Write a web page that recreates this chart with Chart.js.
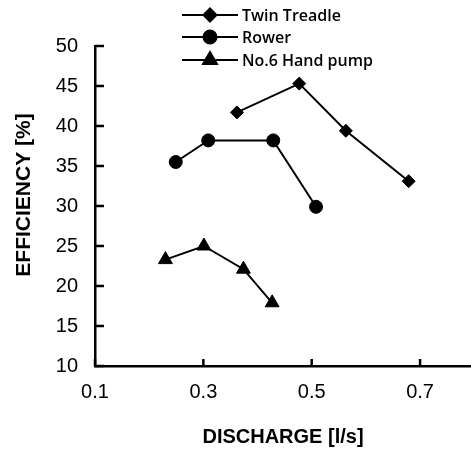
<!DOCTYPE html>
<html>
<head>
<meta charset="utf-8">
<script src="https://cdn.jsdelivr.net/npm/chart.js@4/dist/chart.umd.min.js"></script>
<style>
  body { margin: 0; background: #fff; }
  canvas { display: block; }
</style>
</head>
<body>
<canvas id="effChart" width="471" height="453"></canvas>
<script>
// values
const seriesNames = ["Twin Treadle", "Rower", "No.6 Hand pump"];

const treadleX = [0.362, 0.477, 0.563, 0.679];
const treadleY = [41.7, 45.3, 39.4, 33.1];

const rowerX = [0.249, 0.309, 0.429, 0.508];
const rowerY = [35.5, 38.2, 38.2, 29.9];

const handX = [0.230, 0.301, 0.374, 0.427];
const handY = [23.3, 25.0, 22.1, 17.9];

const xTicks = [0.1, 0.3, 0.5, 0.7];
const yTicks = [10, 15, 20, 25, 30, 35, 40, 45, 50];

const yTitle = "EFFICIENCY [%]";

const pts = (xs, ys) => xs.map((x, i) => ({ x, y: ys[i] }));

function series(label, data, style, radius) {
  return {
    label,
    data,
    borderColor: "#000",
    backgroundColor: "#000",
    borderWidth: 2,
    pointStyle: style,
    pointRadius: radius,
    pointBorderWidth: 1,
    showLine: true,
    tension: 0
  };
}

// inward tick marks, y title, legend with line through marker
const extrasPlugin = {
  id: "extras",
  afterDraw(chart) {
    const ctx = chart.ctx;
    const xs = chart.scales.x;
    const ys = chart.scales.y;
    const area = chart.chartArea;

    ctx.save();
    ctx.strokeStyle = "#000";
    ctx.lineWidth = 2.5;
    yTicks.forEach(v => {
      const py = ys.getPixelForValue(v);
      ctx.beginPath();
      ctx.moveTo(area.left, py);
      ctx.lineTo(area.left + 9, py);
      ctx.stroke();
    });
    xTicks.forEach(v => {
      const px = xs.getPixelForValue(v);
      ctx.beginPath();
      ctx.moveTo(px, area.bottom);
      ctx.lineTo(px, area.bottom - 7);
      ctx.stroke();
    });

    // y axis title
    ctx.save();
    ctx.translate(24, 195);
    ctx.rotate(-Math.PI / 2);
    ctx.fillStyle = "#000";
    ctx.font = "bold 21px 'Liberation Sans', Arial";
    ctx.textAlign = "center";
    ctx.textBaseline = "middle";
    ctx.fillText(yTitle, 0, 0);
    ctx.restore();

    // legend
    const rowY = [15, 37, 60];
    chart.data.datasets.forEach((ds, i) => {
      const y = rowY[i];
      ctx.strokeStyle = "#000";
      ctx.lineWidth = 2;
      ctx.beginPath();
      ctx.moveTo(182, y);
      ctx.lineTo(238, y);
      ctx.stroke();
      ctx.fillStyle = "#000";
      Chart.helpers.drawPoint(ctx, {
        pointStyle: ds.pointStyle,
        radius: ds.pointRadius,
        borderWidth: 1,
        rotation: 0
      }, 210, y);
      ctx.fill();
      ctx.font = "600 16px 'Open Sans'";
      ctx.textBaseline = "middle";
      ctx.textAlign = "left";
      ctx.fillText(ds.label, 242, y + 1);
    });
    ctx.restore();
  }
};

new Chart(document.getElementById("effChart"), {
  type: "scatter",
  data: {
    datasets: [
      series(seriesNames[0], pts(treadleX, treadleY), "rectRot", 6.5),
      series(seriesNames[1], pts(rowerX, rowerY), "circle", 6.5),
      series(seriesNames[2], pts(handX, handY), "triangle", 8)
    ]
  },
  options: {
    responsive: false,
    animation: false,
    layout: {
      autoPadding: false,
      padding: { top: 46, right: 0, left: 0, bottom: 0 }
    },
    plugins: {
      legend: { display: false },
      tooltip: { enabled: false }
    },
    scales: {
      x: {
        type: "linear",
        min: 0.1,
        max: 0.794,
        afterBuildTicks: axis => {
          axis.ticks = xTicks.map(v => ({ value: v }));
        },
        afterFit: axis => {
          axis.height = 87;
          axis.paddingLeft = 0;
          axis.paddingRight = 0;
        },
        ticks: {
          color: "#000",
          padding: 14,
          font: { family: "'Liberation Sans', Arial", size: 20 },
          callback: v => v.toFixed(1)
        },
        grid: {
          drawOnChartArea: false,
          drawTicks: false
        },
        border: { color: "#000", width: 2.5 },
        title: {
          display: true,
          text: "DISCHARGE [l/s]",
          color: "#000",
          padding: { top: 0, bottom: 4 },
          font: { family: "'Liberation Sans', Arial", size: 20, weight: "bold" }
        }
      },
      y: {
        min: 10,
        max: 50,
        afterBuildTicks: axis => {
          axis.ticks = yTicks.map(v => ({ value: v }));
        },
        afterFit: axis => {
          axis.width = 95;
          axis.paddingTop = 0;
          axis.paddingBottom = 0;
        },
        ticks: {
          color: "#000",
          padding: 17,
          font: { family: "'Liberation Sans', Arial", size: 20 }
        },
        grid: {
          drawOnChartArea: false,
          drawTicks: false
        },
        border: { color: "#000", width: 2.5 }
      }
    }
  },
  plugins: [extrasPlugin]
});
</script>
</body>
</html>
